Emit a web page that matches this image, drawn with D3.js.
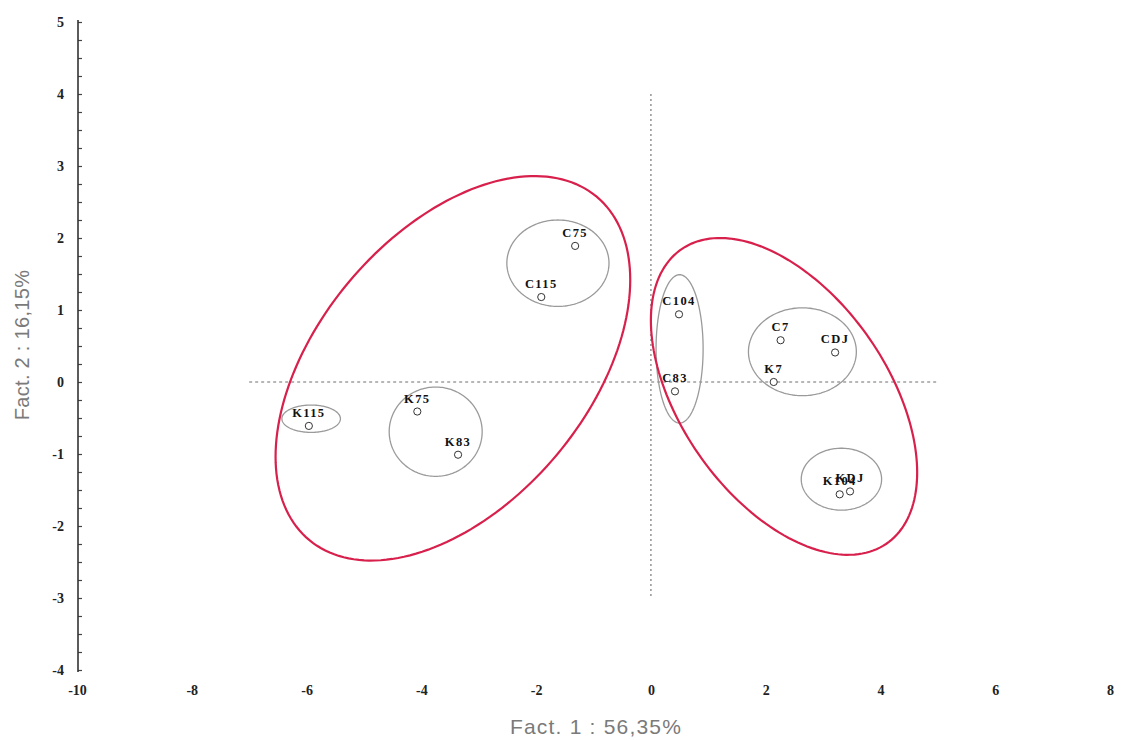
<!DOCTYPE html>
<html>
<head>
<meta charset="utf-8">
<script src="https://cdn.jsdelivr.net/npm/d3@7"></script>
<style>
  html, body { margin: 0; padding: 0; background: #fff; }
  svg { display: block; }
  .tick-lab { font-family: "Liberation Serif", "DejaVu Serif", serif; font-weight: bold; font-size: 14px; fill: #222; }
  .pt-lab { font-family: "Liberation Serif", "DejaVu Serif", serif; font-weight: bold; font-size: 12.5px; fill: #111; letter-spacing: 1.4px; }
  .ax-title { font-family: "Liberation Sans", Arial, sans-serif; font-size: 21px; fill: #7a7a7a; }
</style>
</head>
<body>
<svg id="chart" width="1123" height="740"></svg>
<script>
// Factor scores of the samples on the first two factorial axes
const sampleNames = ["C75", "C115", "K115", "K75", "K83", "C104", "C83", "C7", "CDJ", "K7", "K104", "KDJ"];
const fact1Scores = [-1.32, -1.91, -5.96, -4.07, -3.36, 0.49, 0.42, 2.26, 3.21, 2.14, 3.29, 3.47];
const fact2Scores = [1.89, 1.18, -0.61, -0.41, -1.01, 0.94, -0.13, 0.58, 0.41, 0.00, -1.56, -1.52];

// Sub-groups (grey, axis-aligned ellipses, in factor units)
const groupCx = [-1.62, -5.92, -3.75, 0.50, 2.64, 3.32];
const groupCy = [1.65, -0.51, -0.69, 0.46, 0.42, -1.35];
const groupRx = [0.89, 0.51, 0.81, 0.41, 0.94, 0.70];
const groupRy = [0.60, 0.19, 0.62, 1.03, 0.61, 0.43];

// Main clusters (red, tilted ellipses: centre, half-extent on each axis, correlation)
const clusterCx = [-3.45, 2.32];
const clusterCy = [0.19, -0.20];
const clusterHalfW = [3.09, 2.32];
const clusterHalfH = [2.67, 2.20];
const clusterRho = [0.46, -0.48];

// Axis ticks
const xTicks = [-10, -8, -6, -4, -2, 0, 2, 4, 6, 8];
const yTicks = [-4, -3, -2, -1, 0, 1, 2, 3, 4, 5];

const svg = d3.select("#chart");
const x = d3.scaleLinear().domain([-10, 8]).range([77, 1110]);
const y = d3.scaleLinear().domain([-4, 5]).range([670, 22]);

// Vertical axis: line with minor ticks on the right, labels on the left
const yMinor = d3.range(-4, 5.001, 0.25);
svg.append("g")
  .attr("transform", `translate(${x(-10) + 1},0)`)
  .call(d3.axisRight(y).tickValues(yMinor).tickSize(4).tickFormat(""))
  .call(g => g.select(".domain").remove())
  .call(g => g.selectAll(".tick line").attr("stroke", "#444").attr("stroke-width", 1.2));
svg.append("line")
  .attr("x1", x(-10) + 1).attr("x2", x(-10) + 1)
  .attr("y1", y(5) - 2).attr("y2", y(-4) + 2)
  .attr("stroke", "#333").attr("stroke-width", 1.6);
svg.append("g")
  .attr("transform", `translate(${x(-10) - 9},0)`)
  .attr("font-size", null)
  .call(d3.axisLeft(y).tickValues(yTicks).tickSize(0).tickPadding(4).tickFormat(d => String(d)))
  .call(g => g.select(".domain").remove())
  .call(g => g.attr("font-size", null).attr("font-family", null))
  .call(g => g.selectAll("text").attr("class", "tick-lab"));

// Horizontal axis labels (no axis line)
svg.append("g")
  .attr("transform", `translate(0,${y(-4) + 11})`)
  .call(d3.axisBottom(x).tickValues(xTicks).tickSize(0).tickPadding(4).tickFormat(d => String(d)))
  .call(g => g.select(".domain").remove())
  .call(g => g.attr("font-size", null).attr("font-family", null))
  .call(g => g.selectAll("text").attr("class", "tick-lab"));

// Axis titles
svg.append("text").attr("class", "ax-title")
  .attr("x", 596).attr("y", 734).attr("text-anchor", "middle")
  .style("letter-spacing", "1.2px")
  .text("Fact. 1 : 56,35%");
svg.append("text").attr("class", "ax-title")
  .attr("transform", "translate(29,345) rotate(-90)").attr("text-anchor", "middle")
  .style("font-size", "20px")
  .style("letter-spacing", "0.3px")
  .text("Fact. 2 : 16,15%");

// Dotted origin lines
svg.append("line")
  .attr("x1", x(-7)).attr("x2", x(5)).attr("y1", y(0)).attr("y2", y(0))
  .attr("stroke", "#a0a0a0").attr("stroke-width", 1.7).attr("stroke-dasharray", "3,3");
svg.append("line")
  .attr("x1", x(0)).attr("x2", x(0)).attr("y1", y(4)).attr("y2", y(-3))
  .attr("stroke", "#a0a0a0").attr("stroke-width", 1.7).attr("stroke-dasharray", "2,3");

const closedLine = d3.line().curve(d3.curveLinearClosed);
const steps = d3.range(0, 2 * Math.PI, Math.PI / 90);

// Grey sub-group ellipses
groupCx.forEach((cx, i) => {
  const pts = steps.map(t => [x(cx + groupRx[i] * Math.cos(t)), y(groupCy[i] + groupRy[i] * Math.sin(t))]);
  svg.append("path").attr("d", closedLine(pts))
    .attr("fill", "none").attr("stroke", "#9a9a9a").attr("stroke-width", 1.3);
});

// Red cluster ellipses
clusterCx.forEach((cx, i) => {
  const r = clusterRho[i], s = Math.sqrt(1 - r * r);
  const pts = steps.map(t => [
    x(cx + clusterHalfW[i] * Math.cos(t)),
    y(clusterCy[i] + clusterHalfH[i] * (r * Math.cos(t) + s * Math.sin(t)))
  ]);
  svg.append("path").attr("d", closedLine(pts))
    .attr("fill", "none").attr("stroke", "#d8204c").attr("stroke-width", 2.2);
});

// Sample points and labels
const samples = sampleNames.map((n, i) => ({ name: n, f1: fact1Scores[i], f2: fact2Scores[i] }));
svg.append("g").selectAll("circle").data(samples).join("circle")
  .attr("cx", d => x(d.f1)).attr("cy", d => y(d.f2)).attr("r", 3.6)
  .attr("fill", "#fff").attr("stroke", "#333").attr("stroke-width", 1);
svg.append("g").selectAll("text").data(samples).join("text")
  .attr("class", "pt-lab")
  .attr("x", d => x(d.f1)).attr("y", d => y(d.f2) - 9)
  .attr("text-anchor", "middle")
  .text(d => d.name);
</script>
</body>
</html>
